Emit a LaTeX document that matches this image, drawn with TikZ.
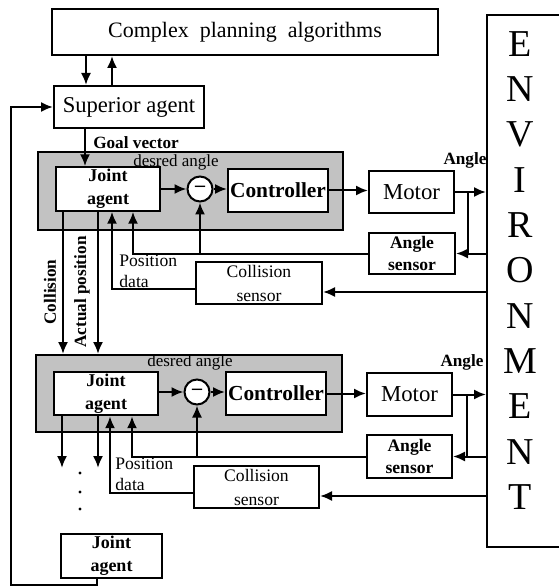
\documentclass[tikz,border=0pt]{standalone}
\usepackage{fontspec}
\setmainfont{Liberation Serif}
\usetikzlibrary{arrows.meta}

\tikzset{
  box/.style={draw, line width=1pt, fill=white, inner sep=1pt, align=center},
  shadebox/.style={draw, line width=1pt, fill=black!24},
  arr/.style={line width=1pt, -{Latex[length=6pt,width=5pt]}},
  conn/.style={line width=1pt},
  bold/.style={font=\fontsize{8.6}{9.6}\selectfont\bfseries, inner sep=0pt, align=left},
  plain/.style={font=\fontsize{8.8}{11}\selectfont, inner sep=0pt, align=left}
}

\begin{document}
\begin{tikzpicture}[x=0.5pt,y=-0.5pt]
\useasboundingbox (0,0) rectangle (558,587);

% top level
\node[box, minimum width=193pt, minimum height=23pt, font=\fontsize{11}{13}\selectfont] (plan) at (245,32) {Complex\ \ planning\ \ algorithms};
\node[box, minimum width=100pt, minimum height=266pt] (env) at (587,281) {};
\foreach \l [count=\i] in {E,N,V,I,R,O,N,M,E,N,T}
  \node[font=\fontsize{19}{19}\selectfont] (env\i) at (520,44+45.3*\i-45.3) {\l};
\node[box, minimum width=75pt, minimum height=21pt, font=\fontsize{11.3}{13}\selectfont] (sup) at (129,107) {Superior agent};

% first joint
\node[shadebox, minimum width=152.5pt, minimum height=39pt] (shade1) at (190.5,191) {};
\node[plain, font=\fontsize{8.5}{9}\selectfont] (des1) at (176,162) {desred angle};
\node[box, minimum width=52pt, minimum height=21pt, font=\fontsize{9}{11.5}\selectfont\bfseries] (joint1) at (108,189) {Joint\\agent};
\node[draw, circle, line width=1pt, fill=white, minimum size=12.5pt, inner sep=0pt, font=\bfseries] (minus1) at (200,189) {--};
\node[box, minimum width=50pt, minimum height=21.5pt, font=\fontsize{10.7}{12}\selectfont\bfseries] (ctrl1) at (278,190.5) {Controller};
\node[box, minimum width=42.5pt, minimum height=21pt, font=\fontsize{11.4}{13}\selectfont] (motor1) at (411.5,192) {Motor};
\node[box, minimum width=43pt, minimum height=20.5pt, font=\fontsize{8.8}{11}\selectfont\bfseries] (asens1) at (412,253.5) {Angle\\sensor};
\node[box, minimum width=63pt, minimum height=21pt, font=\fontsize{8.8}{12}\selectfont] (csens1) at (259,283) {Collision\\sensor};
\node[bold] (goal) at (136,143) {Goal vector};
\node[bold] (ang1) at (465,160) {Angle};
\node[plain, anchor=west, font=\fontsize{8.8}{10.5}\selectfont] (pos1) at (119,271) {Position\\data};
\node[bold, rotate=90] (coll) at (50,292) {Collision};
\node[bold, rotate=90] (act) at (82,292) {Actual position};

% second joint
\node[shadebox, minimum width=153pt, minimum height=38.5pt] (shade2) at (189,393.5) {};
\node[plain, font=\fontsize{8.5}{9}\selectfont] (des2) at (190,362) {desred angle};
\node[box, minimum width=52pt, minimum height=21.5pt, font=\fontsize{9}{11.5}\selectfont\bfseries] (joint2) at (106,393.5) {Joint\\agent};
\node[draw, circle, line width=1pt, fill=white, minimum size=12.5pt, inner sep=0pt, font=\bfseries] (minus2) at (197,392) {--};
\node[box, minimum width=50pt, minimum height=21.5pt, font=\fontsize{10.7}{12}\selectfont\bfseries] (ctrl2) at (276,393.5) {Controller};
\node[box, minimum width=42.5pt, minimum height=21.5pt, font=\fontsize{11.4}{13}\selectfont] (motor2) at (409.5,394.5) {Motor};
\node[box, minimum width=42.5pt, minimum height=21.5pt, font=\fontsize{8.8}{11}\selectfont\bfseries] (asens2) at (409.5,456.5) {Angle\\sensor};
\node[box, minimum width=62.5pt, minimum height=21pt, font=\fontsize{8.8}{12}\selectfont] (csens2) at (256.5,487) {Collision\\sensor};
\node[bold] (ang2) at (462,362) {Angle};
\node[plain, anchor=west, font=\fontsize{8.8}{10.5}\selectfont] (pos2) at (115,474.5) {Position\\data};
\fill (80,473) circle (1.6) (80,492) circle (1.6) (80,509) circle (1.6);

% last joint
\node[box, minimum width=50.5pt, minimum height=21pt, font=\fontsize{9}{11.5}\selectfont\bfseries] (joint3) at (111.5,556) {Joint\\agent};

% connections top
\draw[arr] (plan.south -| 86,0) -- (sup.north -| 86,0);
\draw[arr] (sup.north -| 112,0) -- (plan.south -| 112,0);
\draw[arr] (joint3.south -| 97,0) |- (11,585) |- (sup.west);
\draw[arr] (sup.south -| 85,0) -- (joint1.north -| 85,0);

% connections joint 1
\draw[arr] (joint1.east |- minus1) -- (minus1.west);
\draw[arr] (minus1.east) -- (minus1.east -| ctrl1.west);
\draw[arr] (ctrl1.east) -- (ctrl1.east -| motor1.west);
\draw[arr] (motor1.east) -- (motor1.east -| env.west);
\draw[conn] (motor1.east -| 468,0) -- (asens1.east -| 468,0);
\draw[arr] (asens1.east -| env.west) -- (asens1.east);
\draw[arr] (asens1.west) -| (minus1.south);
\draw[arr] (asens1.west) -| (joint1.south -| 133,0);
\draw[arr] ([yshift=-3pt]csens1.west) -| (joint1.south -| 112,0);
\draw[arr] ([yshift=-4.5pt]csens1.east -| env.west) -- ([yshift=-4.5pt]csens1.east);
\draw[arr] (joint1.south -| 63,0) -- (shade2.north -| 63,0);
\draw[arr] (joint1.south -| 98,0) -- (shade2.north -| 98,0);

% connections joint 2
\draw[arr] (joint2.east |- minus2) -- (minus2.west);
\draw[arr] (minus2.east) -- (minus2.east -| ctrl2.west);
\draw[arr] (ctrl2.east) -- (ctrl2.east -| motor2.west);
\draw[arr] (motor2.east) -- (motor2.east -| env.west);
\draw[conn] (motor2.east -| 467,0) -- (asens2.east -| 467,0);
\draw[arr] (asens2.east -| env.west) -- (asens2.east);
\draw[arr] (asens2.west) -| (minus2.south);
\draw[arr] (asens2.west) -| (joint2.south -| 132,0);
\draw[arr] ([yshift=-3pt]csens2.west) -| (joint2.south -| 110,0);
\draw[arr] ([yshift=-4.5pt]csens2.east -| env.west) -- ([yshift=-4.5pt]csens2.east);
\draw[arr] (joint2.south -| 62,0) -- (62,468);
\draw[arr] (joint2.south -| 98,0) -- (98,468);
\end{tikzpicture}
\end{document}
